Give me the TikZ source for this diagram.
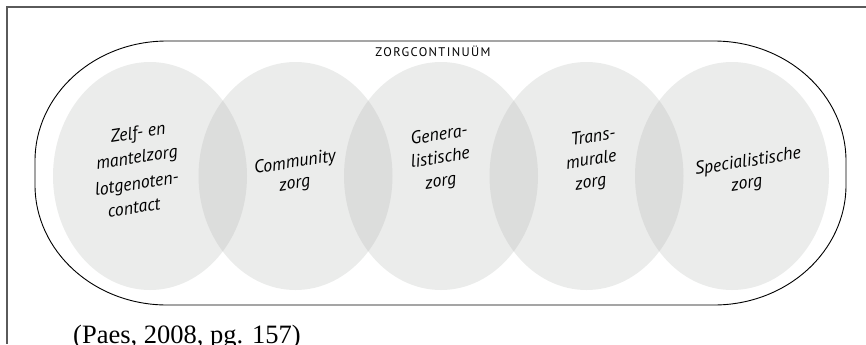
\documentclass[tikz,border=0pt]{standalone}
\usepackage{fontspec}
\setmainfont{Liberation Serif}
\newfontfamily\labfont{PT Sans}
\definecolor{ellfill}{RGB}{235,236,235}
\definecolor{lensfill}{RGB}{220,221,220}
\definecolor{framegray}{RGB}{90,90,90}
\begin{document}
\begin{tikzpicture}[x=1bp,y=-1bp,
  framestyle/.style={draw=framegray,line width=1.6bp},
  outline/.style={draw=black,line width=0.9bp},
  ell/.style={fill=ellfill},
  lens/.style={fill=lensfill},
  lab/.style={font=\labfont\itshape\fontsize{18bp}{24bp}\selectfont,rotate=9,inner sep=0pt},
  titlestyle/.style={font=\labfont\addfontfeature{LetterSpace=11}\fontsize{12.5bp}{14bp}\selectfont,inner sep=0pt}]
\useasboundingbox (0,0) rectangle (866,344);
% frame
\coordinate (ftr) at (866,7);
\coordinate (ftl) at (7,7);
\coordinate (fbl) at (7,344);
\draw[framestyle] (ftr) -- (ftl) -- (fbl);
% ellipses
\foreach \i/\cx in {1/150,2/295.5,3/441,4/586.5,5/732}{
  \coordinate (e\i) at (\cx,176);
  \fill[ell] (e\i) ellipse[x radius=97,y radius=114];
}
\foreach \i/\j in {1/2,2/3,3/4,4/5}{
  \begin{scope}
    \clip (e\i) ellipse[x radius=97,y radius=114];
    \fill[lens] (e\j) ellipse[x radius=97,y radius=114];
  \end{scope}
}
% rounded outline
\coordinate (ot) at (167,41);
\draw[outline] (ot) -- (714,41) arc[start angle=-90,end angle=0,x radius=132,y radius=120]
  -- (846,185) arc[start angle=0,end angle=90,x radius=132,y radius=120]
  -- (167,305) arc[start angle=90,end angle=180,x radius=132,y radius=120]
  -- (35,161) arc[start angle=180,end angle=270,x radius=132,y radius=120] -- cycle;
% title
\node[titlestyle] (title) at (433,51) {ZORGCONTINUÜM};
% labels
\node[lab] (l1a) at (138,134) {Zelf- en};
\node[lab] (l1b) at (137,159) {mantelzorg};
\node[lab] (l1c) at (137,185) {lotgenoten-};
\node[lab] (l1d) at (134,208) {contact};
\node[lab] (l2a) at (295,163) {Community};
\node[lab] (l2b) at (295,186) {zorg};
\node[lab] (l3a) at (439,134) {Genera-};
\node[lab] (l3b) at (440,157) {listische};
\node[lab] (l3c) at (441,184) {zorg};
\node[lab] (l4a) at (593,136) {Trans-};
\node[lab] (l4b) at (591,159) {murale};
\node[lab] (l4c) at (591,185) {zorg};
\node[lab] (l5a) at (748,162) {Specialistische};
\node[lab] (l5b) at (747,186) {zorg};
% citation
\node[anchor=base west,inner sep=0pt,font=\fontsize{26.5bp}{30bp}\selectfont] (cite) at (73,343) {(Paes, 2008, pg. 157)};
\end{tikzpicture}
\end{document}
